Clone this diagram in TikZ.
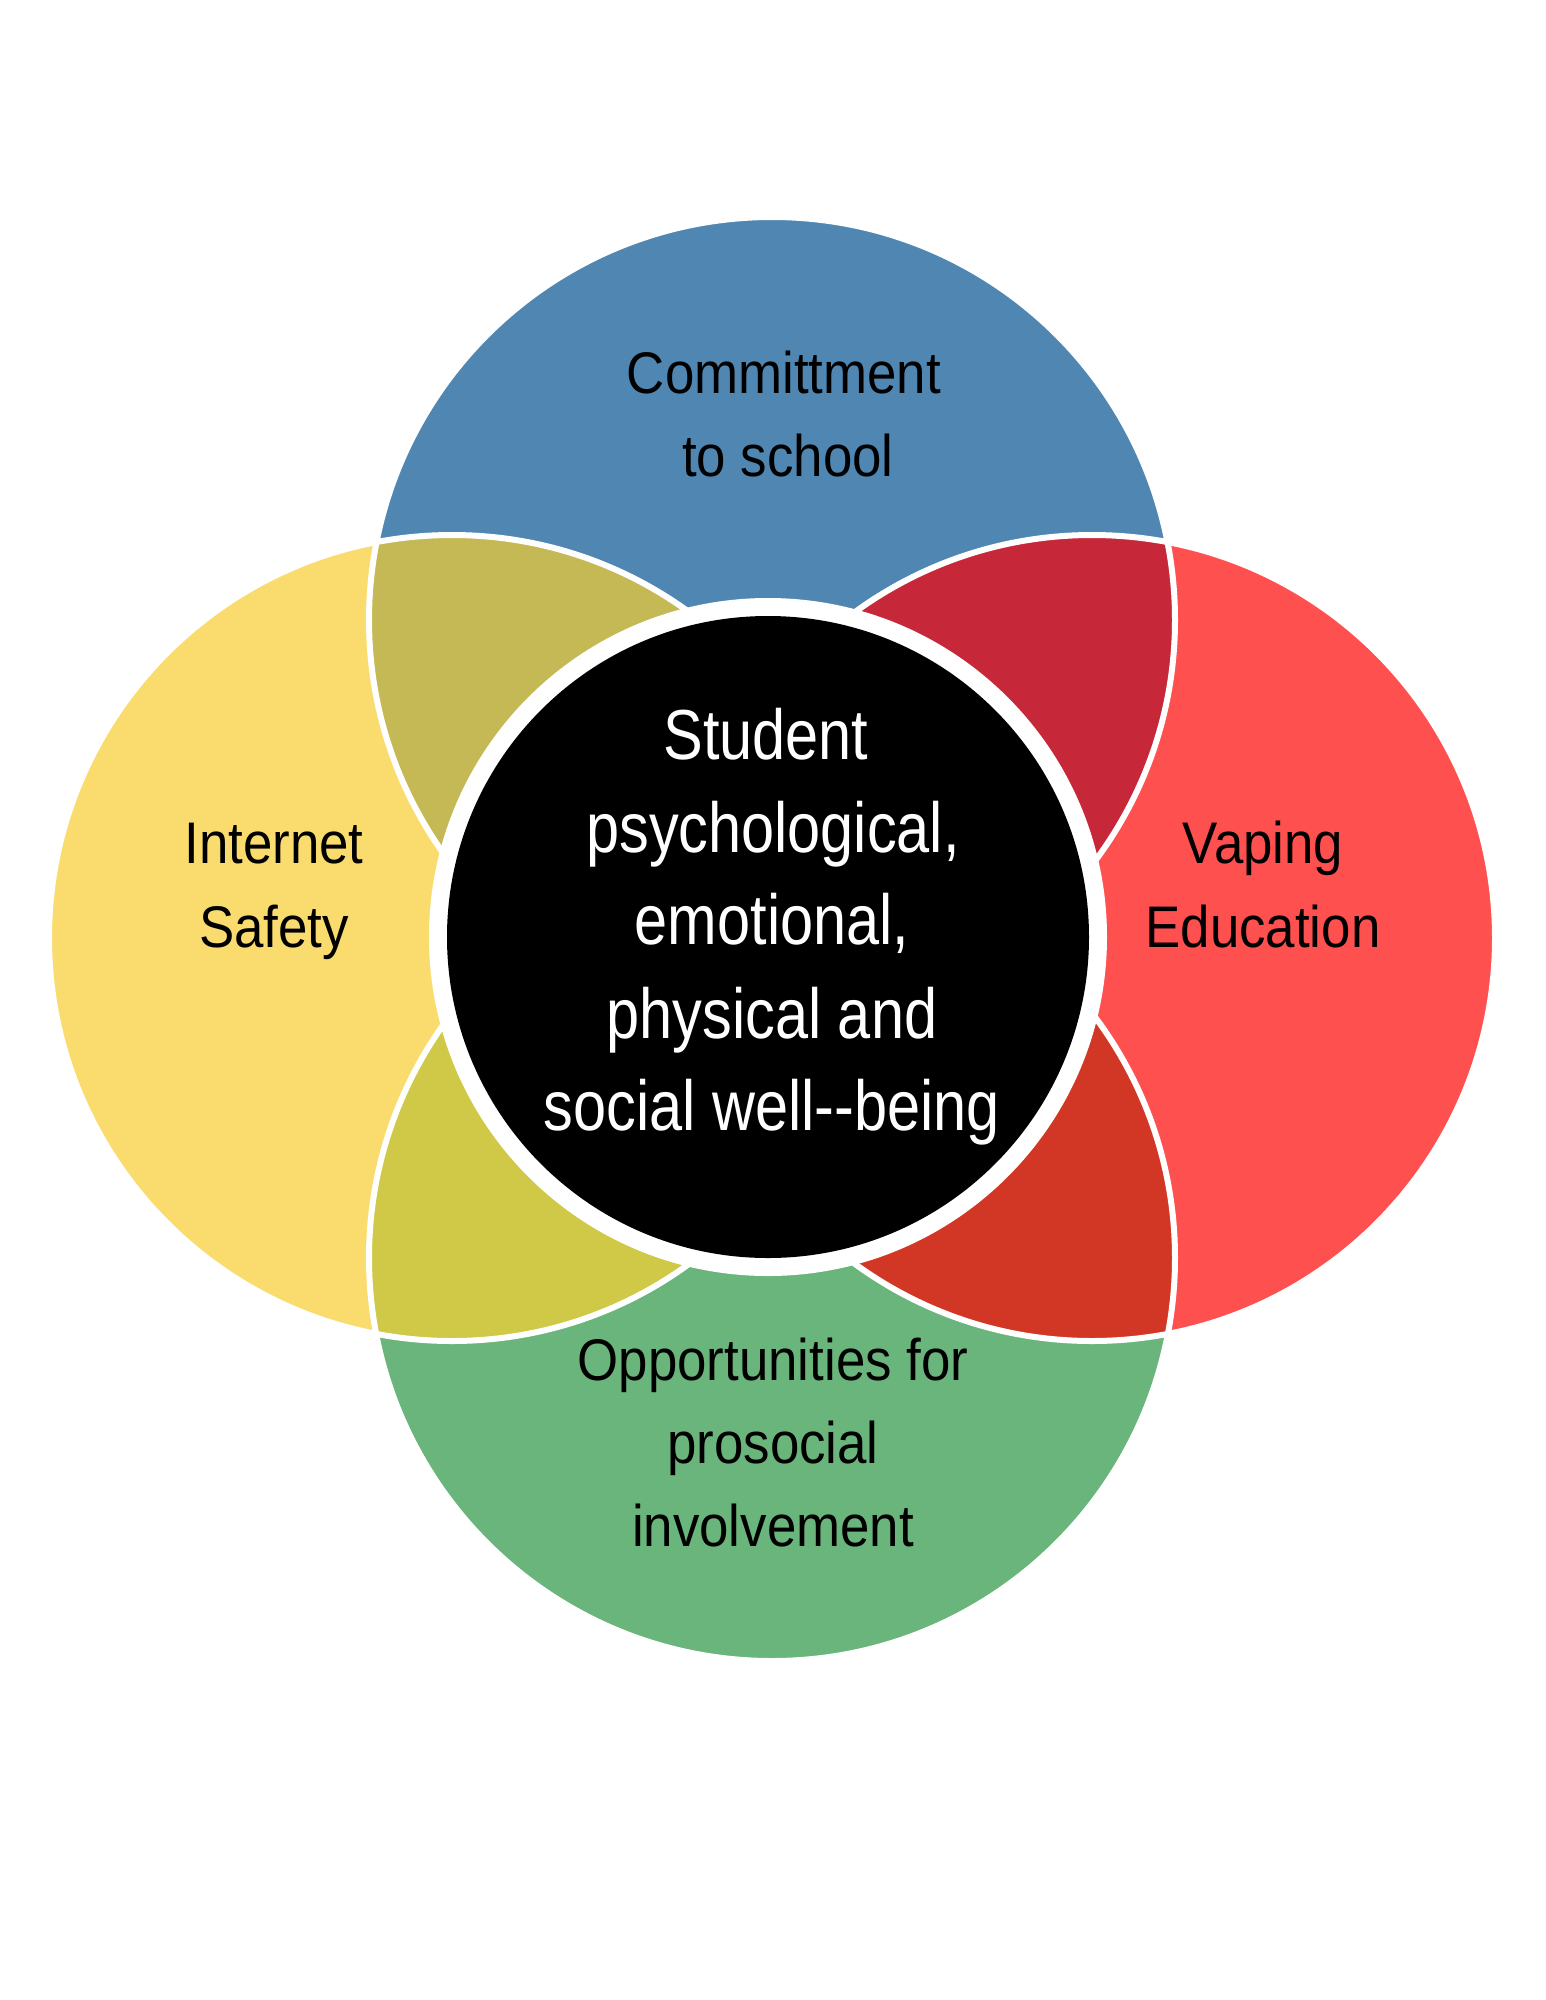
\documentclass[tikz,border=0pt]{standalone}
\usepackage{fontspec}
\setmainfont{Liberation Sans}
\newfontfamily\outerfont[FakeStretch=0.9]{Liberation Sans}
\newfontfamily\innerfont[FakeStretch=0.84]{Liberation Sans}
\definecolor{cblue}{RGB}{79,135,178}
\definecolor{cyellow}{RGB}{250,220,110}
\definecolor{cred}{RGB}{255,80,80}
\definecolor{cgreen}{RGB}{106,181,123}
\definecolor{colive}{RGB}{197,185,85}
\definecolor{cdarkred}{RGB}{199,40,57}
\definecolor{cyg}{RGB}{208,200,71}
\definecolor{corange}{RGB}{210,54,36}
\tikzset{
  outerlabel/.style={anchor=base, inner sep=0pt, text=black, font=\outerfont\fontsize{58.7}{83}\selectfont},
  innerlabel/.style={anchor=base, inner sep=0pt, text=white, font=\innerfont\fontsize{70.8}{93}\selectfont},
  ring/.style={draw=white, line width=6pt}
}
\begin{document}
\begin{tikzpicture}[x=1pt, y=-1pt]
\useasboundingbox (0,0) rectangle (1545,2000);
% circle centres
\coordinate (cb) at (772,620);
\coordinate (cy) at (452,938);
\coordinate (cr) at (1092,938);
\coordinate (cg) at (772,1258);
\coordinate (cc) at (768,937);
\def\R{403}
% base fills
\fill[cblue] (cb) circle (\R);
\fill[cyellow] (cy) circle (\R);
\fill[cred] (cr) circle (\R);
\fill[cgreen] (cg) circle (\R);
% overlaps
\begin{scope}
  \clip (cb) circle (\R);
  \fill[colive] (cy) circle (\R);
  \fill[cdarkred] (cr) circle (\R);
\end{scope}
\begin{scope}
  \clip (cg) circle (\R);
  \fill[cyg] (cy) circle (\R);
  \fill[corange] (cr) circle (\R);
\end{scope}
% white outlines
\draw[ring] (cb) circle (\R);
\draw[ring] (cy) circle (\R);
\draw[ring] (cr) circle (\R);
\draw[ring] (cg) circle (\R);
% central circle
\fill[white] (cc) circle (339);
\fill[black] (cc) circle (321);
% labels
\node[outerlabel] (blue1) at (784,393) {Committment};
\node[outerlabel] (blue2) at (788,476) {to school};
\node[outerlabel] (yel1) at (274,863) {Internet};
\node[outerlabel] (yel2) at (274,947) {Safety};
\node[outerlabel] (red1) at (1263,863) {Vaping};
\node[outerlabel] (red2) at (1263,947) {Education};
\node[outerlabel] (grn1) at (773,1380) {Opportunities for};
\node[outerlabel] (grn2) at (773,1463) {prosocial};
\node[outerlabel] (grn3) at (773,1546) {involvement};
\node[innerlabel] (mid1) at (766,759) {Student};
\node[innerlabel] (mid2) at (773,852) {psychological,};
\node[innerlabel] (mid3) at (772,944) {emotional,};
\node[innerlabel] (mid4) at (772,1038) {physical and};
\node[innerlabel] (mid5) at (772,1130) {social well-\kern0pt-being};
\end{tikzpicture}
\end{document}
